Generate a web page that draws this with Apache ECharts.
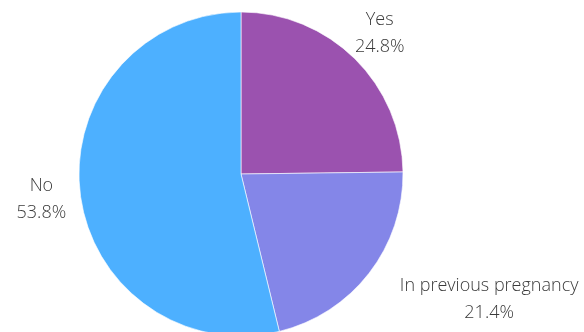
<!DOCTYPE html>
<html><head><meta charset="utf-8">
<script src="https://cdn.jsdelivr.net/npm/echarts@6/dist/echarts.min.js"></script>
<style>html,body{margin:0;padding:0;background:#fff}#c{width:584px;height:332px}</style>
</head><body><div id="c"></div>
<script>
const categories = ['Yes', 'In previous pregnancy', 'No'];
const values = [24.8, 21.4, 53.8];
const colors = ['#9b52af', '#8486e8', '#4db0ff'];

function layout(p) {
  if (p.dataIndex === 0) return {align: 'center', dx: -4, dy: -1};
  if (p.dataIndex === 1) return {dx: -1, dy: 5};
  return {align: 'center', dy: 2};
}

const chart = echarts.init(document.getElementById('c'), null, {renderer: 'canvas'});
chart.setOption({
  animation: false,
  series: [{
    type: 'pie',
    center: [241, 174],
    radius: [0, 162],
    startAngle: 90,
    clockwise: true,
    avoidLabelOverlap: false,
    itemStyle: {borderColor: 'rgba(255,255,255,0.6)', borderWidth: 1},
    labelLine: {show: false, length: 34, length2: 0},
    labelLayout: layout,
    label: {
      show: true,
      position: 'outside',
      fontFamily: 'Open Sans',
      fontSize: 18,
      fontWeight: 300,
      color: '#3a3a3a',
      lineHeight: 27,
      formatter: p => '{a|' + p.name + '}\n{a|' + p.value.toFixed(1) + '%}',
      rich: {a: {fontFamily: 'Open Sans', fontSize: 18, fontWeight: 300, color: '#3a3a3a', lineHeight: 27, align: 'center'}}
    },
    data: categories.map((c, i) => ({
      name: c, value: values[i],
      itemStyle: {color: colors[i]}
    }))
  }]
});
</script></body></html>
